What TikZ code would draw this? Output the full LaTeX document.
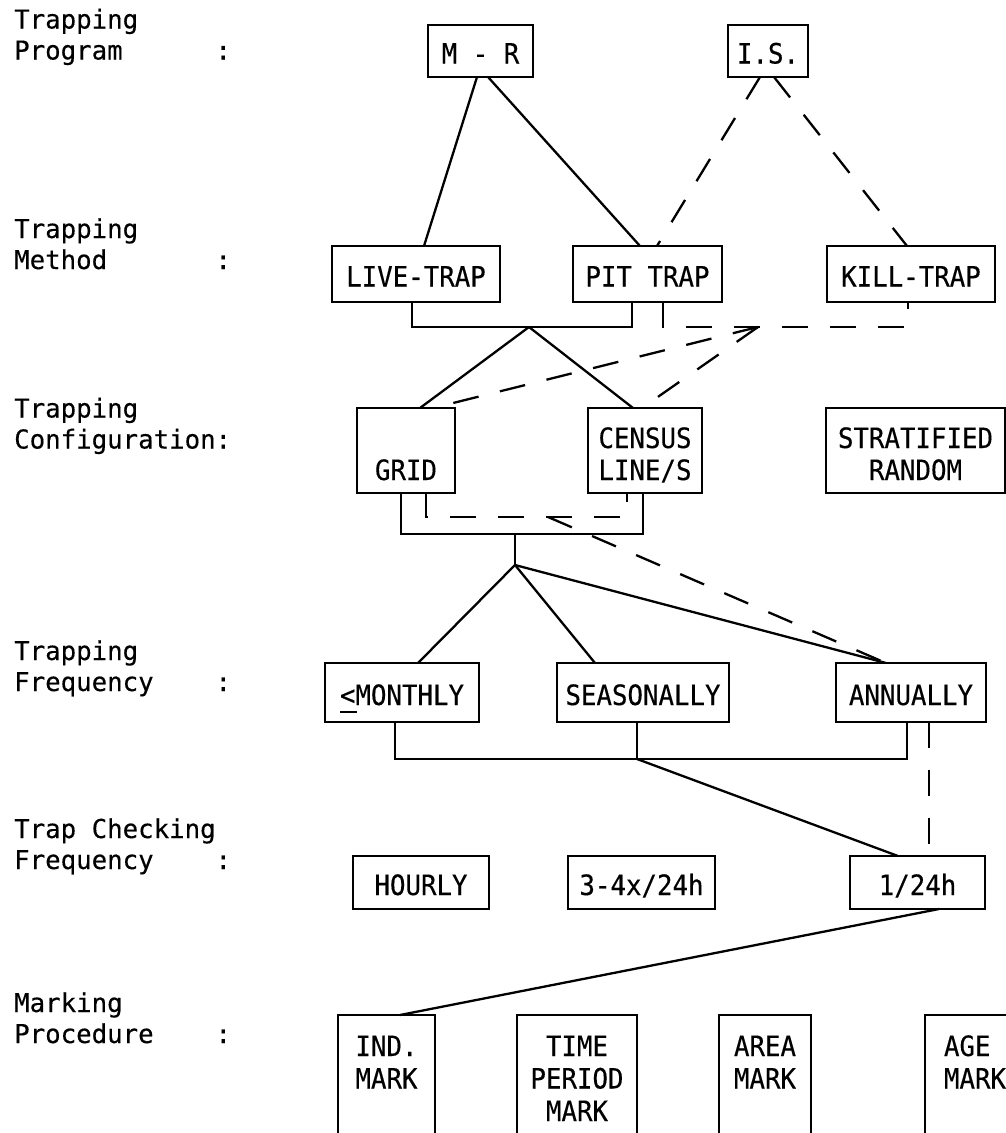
\documentclass[tikz,border=0pt]{standalone}
\usepackage{fontspec}
\setmainfont{DejaVu Sans Mono}[FakeStretch=0.96,FakeBold=0.3]
\newfontfamily\labfont{DejaVu Sans Mono}[FakeStretch=0.99,FakeBold=0.3]
\newfontfamily\boxfont{DejaVu Sans Mono}[FakeStretch=0.92,FakeBold=0.3]
\usetikzlibrary{calc}
\newcommand\lbl[1]{\makebox[201.4pt][l]{#1}:}
\newcommand\stk[1]{\begin{tabular}[t]{@{}c@{}}#1\end{tabular}}
\newcommand\lstk[1]{\begin{tabular}[t]{@{}l@{}}#1\end{tabular}}
\begin{document}
\begin{tikzpicture}[x=1pt,y=-1pt,
  lab/.style={anchor=base west,inner sep=0pt,font=\labfont\fontsize{26}{31}\selectfont},
  box/.style={draw,line width=2.3pt,inner sep=0pt,outer sep=0pt,font=\boxfont\fontsize{28}{32}\selectfont},
  onebox/.style={box,text height=25pt,text depth=0pt},
  twobox/.style={box,text height=0pt,text depth=5pt,minimum height=85pt},
  markbox/.style={box,text height=0pt,text depth=68pt,minimum height=150pt,font=\boxfont\fontsize{28}{32.5}\selectfont},
  link/.style={line width=2.3pt},
  dlink/.style={line width=2.3pt,dash pattern=on 26pt off 22pt}]
\useasboundingbox (0,0) rectangle (1006,1133);
\clip (0,0) rectangle (1006,1133);

% row labels
\node[lab] (l1) at (14,28.5) {\lstk{Trapping\\\lbl{Program}}};
\node[lab] (l2) at (14,238) {\lstk{Trapping\\\lbl{Method}}};
\node[lab] (l3) at (14,417.5) {\lstk{Trapping\\Configuration:}};
\node[lab] (l4) at (14,660) {\lstk{Trapping\\\lbl{Frequency}}};
\node[lab] (l5) at (14,838) {\lstk{Trap Checking\\\lbl{Frequency}}};
\node[lab] (l6) at (14,1012) {\lstk{Marking\\\lbl{Procedure}}};

% row 0
\node[onebox,minimum width=105pt,minimum height=52pt] (mr) at (480.5,51) {M - R};
\node[onebox,minimum width=80pt,minimum height=52pt] (is) at (768,51) {I.S.};
% row 1
\node[onebox,minimum width=168pt,minimum height=56pt] (live) at (416,274) {LIVE-TRAP};
\node[onebox,minimum width=149pt,minimum height=56pt] (pit) at (647.5,274) {PIT TRAP};
\node[onebox,minimum width=168pt,minimum height=56pt] (kill) at (911,274) {KILL-TRAP};
% row 2
\node[twobox,minimum width=98pt] (grid) at (406,450.5) {\stk{\\GRID}};
\node[twobox,minimum width=114pt] (census) at (645,450.5) {\stk{CENSUS\\LINE/S}};
\node[twobox,minimum width=179pt] (strat) at (915.5,450.5) {\stk{STRATIFIED\\RANDOM}};
% row 3
\node[onebox,minimum width=154pt,minimum height=59pt] (monthly) at (402,692.5) {\makebox[0pt][l]{\rule[-8pt]{17pt}{2.2pt}}<MONTHLY};
\node[onebox,minimum width=172pt,minimum height=59pt] (seas) at (643,692.5) {SEASONALLY};
\node[onebox,minimum width=150pt,minimum height=59pt] (annual) at (911,692.5) {ANNUALLY};
% row 4
\node[onebox,minimum width=136pt,minimum height=53pt] (hourly) at (421,882.5) {HOURLY};
\node[onebox,minimum width=147pt,minimum height=53pt] (three) at (641.5,882.5) {3-4x/24h};
\node[onebox,minimum width=135pt,minimum height=53pt] (daily) at (917.5,882.5) {1/24h};
% row 5
\node[markbox,minimum width=97pt] (ind) at (386.5,1090) {\stk{IND.\\MARK}};
\node[markbox,minimum width=120pt] (time) at (577,1090) {\stk{TIME\\PERIOD\\MARK}};
\node[markbox,minimum width=92pt] (area) at (765,1090) {\stk{AREA\\MARK}};
\node[markbox,minimum width=100pt] (age) at (975,1090) {\lstk{AGE\\MARK}};

% program -> method
\draw[link] ($(mr.south)+(-3.5,0)$) -- ($(live.north)+(8,0)$);
\draw[link] ($(mr.south)+(7.5,0)$) -- ($(pit.north)+(-7.5,0)$);
\draw[dlink] ($(is.south)+(-8,0)$) -- ($(pit.north)+(9.5,0)$);
\draw[dlink] ($(is.south)+(6,0)$) -- ($(kill.north)+(-4,0)$);

% method -> configuration
\coordinate (j1) at (529,327);
\draw[link] ($(live.south)+(-4,0)$) |- (j1) -| ($(pit.south)+(-15.5,0)$);
\draw[link] (j1) -- ($(grid.north)+(14,0)$);
\draw[link] (j1) -- ($(census.north)+(-12,0)$);
\coordinate (d1) at (758,327);
\draw[dlink] ($(pit.south)+(15.5,0)$) |- (d1) -| ($(kill.south)+(-3,0)$);
\draw[dlink] (d1) -- ($(grid.north)+(27,0)$);
\draw[dlink] (d1) -- ($(census.north)+(-3,0)$);

% configuration -> frequency
\coordinate (j2) at (515,534);
\coordinate (j3) at (515,565);
\draw[link] ($(grid.south)+(-5,0)$) |- (j2) -| ($(census.south)+(-2,0)$);
\draw[link] (j2) -- (j3);
\draw[link] (j3) -- ($(monthly.north)+(16,0)$);
\draw[link] (j3) -- ($(seas.north)+(-48,0)$);
\draw[link] (j3) -- ($(annual.north)+(-25,0)$);
\coordinate (d2) at (548,517);
\draw[dlink] ($(grid.south)+(20,0)$) |- (d2) -| ($(census.south)+(-18,0)$);
\draw[dlink] (d2) -- ($(annual.north)+(-25,0)$);

% frequency -> checking
\coordinate (j4) at (637,759);
\draw[link] ($(monthly.south)+(-7,0)$) |- (j4) -| ($(annual.south)+(-4,0)$);
\draw[link] ($(seas.south)+(-6,0)$) -- (j4);
\draw[link] (j4) -- ($(daily.north)+(-19.5,0)$);
\draw[dlink] ($(annual.south)+(18,0)$) -- ($(daily.north)+(11.5,0)$);

% checking -> marking
\draw[link] ($(daily.south)+(21.5,0)$) -- ($(ind.north)+(13.5,0)$);
\end{tikzpicture}
\end{document}
